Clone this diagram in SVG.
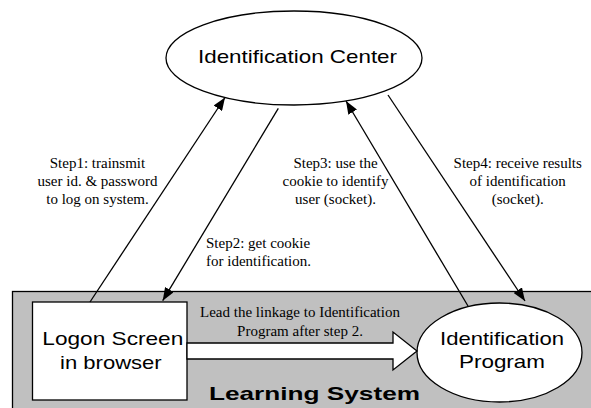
<svg xmlns="http://www.w3.org/2000/svg" width="591" height="408" viewBox="0 0 591 408">
<style>
.sans{font-family:"Liberation Sans",Arial,sans-serif;font-size:19px;fill:#000}
.serif{font-family:"Liberation Serif","Times New Roman",serif;font-size:15px;fill:#000;text-anchor:middle}
.ln{stroke:#000;stroke-width:1.3;fill:none}
.node{stroke:#000;stroke-width:1.3;fill:#fff}
</style>
<defs>
<marker id="ah" markerUnits="userSpaceOnUse" markerWidth="14" markerHeight="10" viewBox="0 0 14 10" refX="13" refY="5" orient="auto">
<path d="M0,0 L13,5 L0,10 z" fill="#000"/>
</marker>
</defs>
<rect width="591" height="408" fill="#fff"/>
<g id="learning-system">
<rect x="12.5" y="291.5" width="600" height="130" fill="#c0c0c0" stroke="#000" stroke-width="1.3"/>
<text class="sans" x="209" y="400" font-weight="bold" font-size="22" textLength="211" lengthAdjust="spacingAndGlyphs">Learning System</text>
</g>
<g id="identification-center">
<ellipse class="node" cx="294" cy="58" rx="128" ry="47"/>
<text class="sans" x="198" y="63" textLength="199" lengthAdjust="spacingAndGlyphs">Identification Center</text>
</g>
<g id="logon-screen">
<rect class="node" x="32.5" y="302" width="154.5" height="98"/>
<text class="sans" x="42.3" y="345" textLength="141" lengthAdjust="spacingAndGlyphs">Logon Screen</text>
<text class="sans" x="60" y="369" textLength="101.7" lengthAdjust="spacingAndGlyphs">in browser</text>
</g>
<g id="identification-program">
<ellipse class="node" cx="499.5" cy="352.5" rx="82.5" ry="49.5"/>
<text class="sans" x="440" y="345" textLength="124" lengthAdjust="spacingAndGlyphs">Identification</text>
<text class="sans" x="459" y="368" textLength="86" lengthAdjust="spacingAndGlyphs">Program</text>
</g>
<g id="connectors">
<line class="ln" x1="90" y1="302" x2="225" y2="97.5" marker-end="url(#ah)"/>
<line class="ln" x1="278.3" y1="108.3" x2="162.7" y2="300.7" marker-end="url(#ah)"/>
<line class="ln" x1="468" y1="306" x2="346" y2="101" marker-end="url(#ah)"/>
<line class="ln" x1="388" y1="95" x2="525" y2="301" marker-end="url(#ah)"/>
<polygon points="187,343 393,343 393,332 417,351 393,370 393,359 187,359" fill="#fff" stroke="#000" stroke-width="1.3"/>
</g>
<g id="labels">
<text class="serif" x="97.5" y="168">Step1: trainsmit</text>
<text class="serif" x="97.5" y="186">user id. &amp; password</text>
<text class="serif" x="97.5" y="204">to log on system.</text>
<text class="serif" x="206" y="248" style="text-anchor:start">Step2: get cookie</text>
<text class="serif" x="206" y="266" style="text-anchor:start">for identification.</text>
<text class="serif" x="335.5" y="168">Step3: use the</text>
<text class="serif" x="335.5" y="186">cookie to identify</text>
<text class="serif" x="335.5" y="204">user (socket).</text>
<text class="serif" x="517.7" y="168">Step4: receive results</text>
<text class="serif" x="517.7" y="186">of identification</text>
<text class="serif" x="517.7" y="204">(socket).</text>
<text class="serif" x="300" y="317">Lead the linkage to Identification</text>
<text class="serif" x="300" y="336">Program after step 2.</text>
</g>
</svg>
